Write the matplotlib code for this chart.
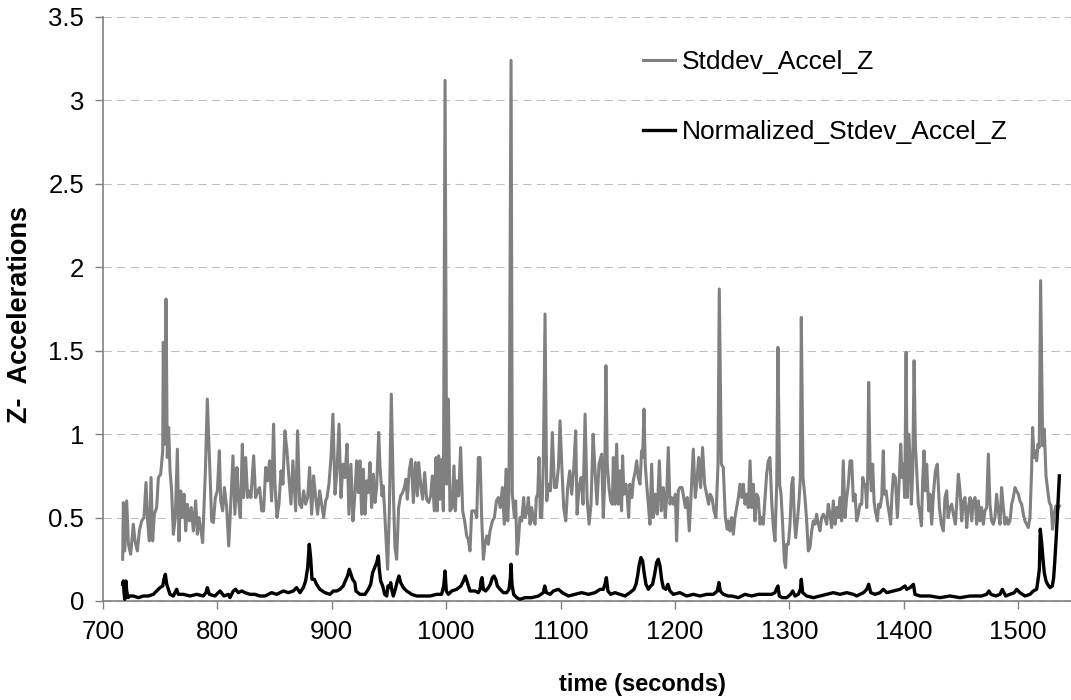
import matplotlib
matplotlib.use('Agg')
import matplotlib.pyplot as plt
from matplotlib.ticker import FuncFormatter

plt.rcParams['font.family'] = ['Liberation Sans', 'DejaVu Sans']

# Stddev_Accel_Z (gray)
t_std = [717.2, 717.8, 719.0, 720.7, 722.2, 724.2, 726.5, 728.0, 730.0, 731.8, 733.8, 735.8, 737.6, 739.0,
         740.5, 742.0, 743.4, 744.9, 746.9, 748.4, 750.4, 752.2, 752.7, 753.9, 755.1, 756.2, 757.4, 758.6,
         760.0, 761.5, 763.2, 765.0, 766.4, 767.9, 769.3, 770.8, 772.3, 773.7, 775.5, 777.2, 779.0, 781.0,
         782.5, 783.9, 785.7, 787.1, 789.5, 791.2, 793.0, 795.0, 796.5, 798.2, 800.0, 801.7, 802.9, 804.6,
         806.1, 808.1, 809.9, 811.8, 813.6, 815.3, 817.1, 818.3, 820.0, 821.8, 822.9, 824.7, 826.4, 827.6,
         829.3, 831.7, 833.4, 835.2, 836.9, 838.7, 840.4, 842.2, 843.9, 845.6, 847.4, 849.1, 850.3, 852.1,
         853.8, 855.6, 857.3, 859.0, 860.8, 862.5, 864.3, 866.0, 868.4, 870.1, 871.9, 873.6, 875.4, 877.1,
         878.9, 880.6, 882.4, 884.1, 885.9, 887.6, 889.4, 891.1, 892.9, 894.6, 895.8, 897.5, 899.3, 901.0,
         902.8, 904.5, 906.3, 908.0, 909.8, 911.5, 913.3, 915.0, 916.7, 918.5, 920.2, 921.7, 923.2, 924.6,
         926.1, 927.6, 929.0, 930.5, 931.9, 933.4, 934.8, 936.3, 937.8, 939.2, 941.0, 942.1, 943.9, 945.0,
         946.8, 948.8, 950.3, 952.0, 953.8, 955.2, 956.7, 958.4, 960.2, 961.9, 963.4, 964.9, 966.0, 967.8,
         969.5, 971.3, 973.0, 974.8, 975.9, 977.7, 979.4, 981.2, 982.9, 984.7, 986.4, 987.9, 989.6, 991.1,
         992.2, 993.4, 994.6, 996.3, 997.5, 999.0, 1000.4, 1001.9, 1003.3, 1005.1, 1006.8, 1008.0, 1009.1,
         1010.9, 1012.6, 1014.4, 1016.1, 1017.9, 1019.3, 1020.8, 1022.3, 1025.2, 1026.7, 1028.1, 1029.6,
         1031.0, 1032.5, 1033.9, 1035.4, 1036.9, 1038.3, 1040.4, 1042.1, 1043.9, 1045.6, 1047.3, 1049.1,
         1050.8, 1052.3, 1053.8, 1054.9, 1056.7, 1057.8, 1059.6, 1060.7, 1061.9, 1063.1, 1064.5, 1066.0,
         1067.7, 1068.9, 1070.7, 1071.8, 1073.3, 1074.7, 1076.5, 1077.7, 1078.8, 1080.0, 1081.1, 1082.3,
         1083.5, 1084.9, 1086.4, 1087.9, 1089.3, 1091.1, 1092.8, 1094.6, 1096.3, 1098.1, 1099.5, 1101.0,
         1102.7, 1104.5, 1106.2, 1108.0, 1109.7, 1111.5, 1113.2, 1114.4, 1116.1, 1117.9, 1119.6, 1121.4,
         1123.1, 1124.9, 1126.6, 1128.4, 1130.1, 1131.8, 1133.6, 1135.9, 1137.3, 1138.5, 1139.6, 1140.8,
         1142.3, 1143.7, 1145.2, 1146.1, 1147.5, 1149.0, 1150.4, 1151.9, 1153.3, 1154.2, 1155.4, 1157.1,
         1158.3, 1159.5, 1160.6, 1162.4, 1163.5, 1165.3, 1166.5, 1167.9, 1169.4, 1170.8, 1171.7, 1172.9,
         1174.0, 1175.2, 1176.7, 1178.1, 1179.6, 1181.0, 1182.8, 1184.5, 1186.3, 1188.0, 1189.8, 1191.5,
         1192.7, 1194.1, 1195.6, 1197.0, 1198.5, 1200.3, 1201.4, 1202.9, 1204.3, 1206.1, 1207.2, 1209.0,
         1210.7, 1212.5, 1214.2, 1216.0, 1217.7, 1218.9, 1220.7, 1222.4, 1224.1, 1225.9, 1227.6, 1229.4,
         1230.6, 1232.3, 1234.1, 1235.8, 1237.6, 1238.7, 1240.5, 1242.2, 1244.0, 1245.7, 1246.6, 1248.1,
         1249.5, 1251.0, 1252.4, 1253.9, 1255.4, 1256.8, 1258.3, 1259.7, 1261.2, 1262.6, 1264.1, 1265.6,
         1267.0, 1268.5, 1269.9, 1271.4, 1272.8, 1274.3, 1275.8, 1277.2, 1278.7, 1280.1, 1281.6, 1283.0,
         1284.5, 1286.0, 1287.4, 1288.9, 1290.0, 1291.5, 1292.7, 1293.8, 1295.6, 1296.7, 1297.6, 1299.1,
         1300.5, 1302.0, 1303.1, 1304.3, 1305.5, 1307.2, 1308.4, 1309.6, 1310.4, 1311.9, 1313.6, 1315.1,
         1316.5, 1318.0, 1319.5, 1320.9, 1322.4, 1323.8, 1325.3, 1326.7, 1328.2, 1329.7, 1331.1, 1332.6,
         1334.0, 1335.5, 1336.9, 1338.4, 1339.9, 1341.3, 1342.8, 1344.2, 1345.7, 1347.1, 1348.6, 1350.1,
         1351.5, 1353.0, 1354.5, 1355.9, 1357.4, 1358.8, 1360.3, 1361.7, 1363.2, 1364.1, 1365.2, 1366.4,
         1367.6, 1368.4, 1369.3, 1370.5, 1371.6, 1372.8, 1374.0, 1375.1, 1376.9, 1378.1, 1379.2, 1380.7,
         1382.1, 1383.0, 1384.5, 1385.9, 1387.4, 1388.5, 1389.7, 1390.9, 1392.6, 1394.4, 1396.1, 1397.3,
         1398.5, 1399.6, 1400.8, 1402.0, 1403.1, 1404.3, 1405.5, 1406.6, 1407.8, 1409.0, 1410.1, 1411.3,
         1412.7, 1414.2, 1415.4, 1416.5, 1417.7, 1418.9, 1420.0, 1421.8, 1422.9, 1424.4, 1425.9, 1427.6,
         1429.3, 1431.1, 1432.8, 1434.6, 1436.0, 1437.5, 1438.7, 1440.4, 1441.9, 1443.3, 1445.1, 1446.2,
         1447.7, 1449.2, 1450.6, 1452.1, 1453.5, 1455.0, 1456.4, 1457.9, 1459.4, 1460.8, 1462.3, 1463.7,
         1465.2, 1466.6, 1468.0, 1469.5, 1470.9, 1472.4, 1473.9, 1475.3, 1476.8, 1478.2, 1479.7, 1481.1,
         1482.6, 1484.1, 1485.5, 1487.0, 1488.4, 1489.9, 1491.3, 1492.8, 1494.3, 1495.7, 1497.2, 1498.6,
         1500.1, 1501.5, 1503.0, 1504.5, 1505.9, 1507.4, 1508.8, 1510.3, 1511.7, 1512.6, 1513.8, 1514.9,
         1516.1, 1517.3, 1518.4, 1519.6, 1521.4, 1522.8, 1524.3, 1525.7, 1527.2, 1528.7, 1530.1, 1531.6,
         1533.0, 1534.5, 1536.0]
v_std = [0.25, 0.59, 0.30, 0.60, 0.34, 0.28, 0.46, 0.36, 0.30, 0.42, 0.48, 0.50, 0.71, 0.48,
         0.36, 0.74, 0.36, 0.52, 0.56, 0.74, 0.76, 0.90, 1.55, 0.94, 1.81, 0.86, 1.04, 0.78,
         0.66, 0.40, 0.50, 0.91, 0.36, 0.66, 0.50, 0.64, 0.42, 0.58, 0.48, 0.56, 0.42, 0.60,
         0.40, 0.50, 0.42, 0.35, 0.78, 1.21, 0.86, 0.48, 0.47, 0.62, 0.66, 0.90, 0.60, 0.54,
         0.68, 0.56, 0.33, 0.60, 0.87, 0.52, 0.80, 0.62, 0.50, 0.94, 0.62, 0.86, 0.62, 0.66,
         0.62, 0.87, 0.62, 0.66, 0.68, 0.54, 0.54, 0.80, 0.72, 0.84, 0.60, 1.06, 0.70, 0.50,
         0.58, 0.78, 0.70, 1.02, 0.90, 0.74, 0.58, 0.84, 0.54, 1.02, 0.58, 0.56, 0.66, 0.58,
         0.62, 0.80, 0.52, 0.75, 0.62, 0.52, 0.66, 0.58, 0.50, 0.60, 0.62, 0.70, 0.86, 1.12,
         0.64, 0.78, 1.06, 0.62, 0.82, 0.74, 0.94, 0.52, 0.82, 0.48, 0.64, 0.84, 0.65, 0.84,
         0.52, 0.79, 0.52, 0.72, 0.65, 0.83, 0.56, 0.76, 0.59, 0.68, 1.01, 0.81, 0.63, 0.69,
         0.45, 0.19, 0.54, 1.24, 0.65, 0.32, 0.25, 0.56, 0.63, 0.65, 0.68, 0.73, 0.61, 0.79,
         0.85, 0.59, 0.83, 0.63, 0.83, 0.70, 0.61, 0.77, 0.61, 0.59, 0.63, 0.75, 0.54, 0.86,
         0.54, 0.87, 0.61, 0.85, 0.54, 3.12, 0.70, 1.21, 0.54, 0.56, 0.81, 0.54, 0.72,
         0.63, 0.92, 0.54, 0.48, 0.39, 0.37, 0.30, 0.54, 0.54, 0.50, 0.86, 0.86,
         0.50, 0.25, 0.34, 0.39, 0.34, 0.42, 0.48, 0.50, 0.60, 0.62, 0.56, 0.68,
         0.46, 0.79, 0.48, 0.66, 3.24, 0.64, 0.50, 0.60, 0.28, 0.36, 0.50, 0.48,
         0.62, 0.50, 0.54, 0.62, 0.46, 0.56, 0.48, 0.46, 0.62, 0.64, 0.86, 0.50,
         0.50, 0.82, 1.72, 0.60, 0.70, 0.66, 1.01, 0.68, 0.68, 0.80, 1.08, 0.82,
         0.56, 0.48, 0.68, 0.78, 0.64, 0.80, 1.02, 0.52, 0.68, 0.74, 0.58, 1.12,
         0.62, 0.46, 0.58, 1.00, 0.78, 0.58, 0.82, 0.88, 0.50, 0.70, 1.41, 0.82,
         0.68, 0.60, 0.58, 0.86, 0.58, 0.94, 0.58, 0.78, 0.54, 0.87, 0.64, 0.70,
         0.62, 0.50, 0.70, 0.62, 0.72, 0.78, 0.84, 0.74, 0.70, 0.90, 0.86, 1.15,
         0.82, 0.70, 0.58, 0.46, 0.82, 0.50, 0.64, 0.52, 0.84, 0.54, 0.68, 0.50,
         0.62, 0.92, 0.58, 0.62, 0.58, 0.64, 0.36, 0.66, 0.68, 0.68, 0.64, 0.56,
         0.62, 0.42, 0.66, 0.91, 0.62, 0.70, 0.86, 0.68, 0.92, 0.70, 0.64, 0.58,
         0.64, 0.62, 0.54, 0.50, 0.82, 1.87, 0.82, 0.80, 0.50, 0.43, 0.48, 0.42,
         0.50, 0.40, 0.50, 0.56, 0.62, 0.70, 0.62, 0.70, 0.58, 0.64, 0.56, 0.84,
         0.56, 0.70, 0.48, 0.64, 0.62, 0.46, 0.50, 0.46, 0.62, 0.76, 0.84, 0.86,
         0.60, 0.44, 0.36, 0.70, 1.52, 0.70, 0.64, 0.50, 0.24, 0.20, 0.34, 0.34,
         0.46, 0.70, 0.74, 0.50, 0.38, 0.50, 0.60, 0.74, 1.70, 0.74, 0.62, 0.48,
         0.30, 0.32, 0.42, 0.48, 0.46, 0.52, 0.46, 0.42, 0.50, 0.52, 0.50, 0.46,
         0.58, 0.52, 0.44, 0.60, 0.46, 0.56, 0.50, 0.62, 0.48, 0.84, 0.50, 0.62,
         0.70, 0.84, 0.84, 0.60, 0.64, 0.48, 0.52, 0.58, 0.58, 0.74, 0.70, 0.70,
         0.56, 0.73, 1.31, 0.82, 0.66, 0.82, 0.60, 0.54, 0.48, 0.58, 0.56, 0.62,
         0.90, 0.64, 0.66, 0.58, 0.52, 0.46, 0.64, 0.76, 0.74, 0.50, 0.74, 0.94,
         0.74, 0.82, 0.62, 1.49, 0.62, 1.00, 0.86, 0.58, 0.78, 1.44, 0.94, 0.78,
         0.58, 0.52, 0.45, 0.72, 0.90, 0.66, 0.82, 0.54, 0.64, 0.46, 0.64, 0.78,
         0.82, 0.56, 0.46, 0.42, 0.62, 0.66, 0.50, 0.56, 0.58, 0.52, 0.46, 0.58,
         0.76, 0.66, 0.48, 0.60, 0.62, 0.44, 0.56, 0.62, 0.48, 0.60, 0.62, 0.46,
         0.60, 0.48, 0.56, 0.46, 0.54, 0.56, 0.88, 0.58, 0.48, 0.46, 0.50, 0.64,
         0.54, 0.46, 0.68, 0.56, 0.46, 0.50, 0.46, 0.48, 0.58, 0.62, 0.68, 0.66,
         0.64, 0.60, 0.58, 0.52, 0.48, 0.46, 0.44, 0.50, 0.78, 1.04, 0.86, 0.90,
         0.84, 0.94, 0.92, 1.92, 0.93, 1.03, 0.75, 0.67, 0.59, 0.57, 0.43, 0.53,
         0.57, 0.55, 0.57]

# Normalized_Stdev_Accel_Z (black)
t_norm = [717.2, 717.8, 718.4, 719.0, 719.5, 720.1, 720.7, 721.9, 723.6, 726.5, 730.9, 735.3, 739.6, 744.0,
          746.9, 749.8, 752.2, 753.3, 754.5, 755.7, 757.1, 758.6, 761.5, 764.4, 765.9, 770.2, 776.1, 781.9,
          787.7, 790.0, 791.2, 793.0, 797.9, 802.3, 805.8, 809.6, 811.0, 813.9, 815.9, 818.3, 821.2, 824.1,
          828.5, 832.8, 837.2, 841.6, 847.4, 851.8, 857.6, 861.9, 866.3, 869.2, 872.2, 875.1, 877.1, 878.9,
          880.3, 881.5, 882.7, 884.7, 886.7, 889.6, 894.0, 898.4, 901.3, 904.2, 907.1, 910.0, 912.4, 913.8,
          915.3, 916.7, 918.2, 920.2, 921.1, 924.6, 929.0, 931.9, 934.0, 935.7, 937.5, 939.2, 940.7, 941.5,
          942.7, 944.5, 946.2, 948.0, 949.1, 950.3, 951.5, 952.6, 953.8, 955.5, 957.3, 958.7, 960.2, 962.5,
          965.4, 969.8, 974.2, 980.0, 985.8, 991.7, 996.0, 997.8, 999.0, 1000.1, 1001.9, 1004.8, 1009.1,
          1012.9, 1015.0, 1016.7, 1018.5, 1020.8, 1025.2, 1028.1, 1029.6, 1030.4, 1031.3, 1032.5, 1034.5,
          1036.9, 1038.6, 1040.4, 1041.8, 1043.3, 1044.7, 1047.1, 1050.0, 1052.9, 1054.9, 1056.1, 1056.7,
          1057.5, 1059.0, 1061.6, 1064.5, 1068.9, 1074.7, 1080.6, 1084.9, 1086.1, 1087.6, 1090.8, 1093.7,
          1098.1, 1101.5, 1106.8, 1112.6, 1118.4, 1124.3, 1130.1, 1134.5, 1137.3, 1138.8, 1140.0, 1141.4,
          1143.7, 1147.5, 1151.9, 1156.3, 1160.6, 1164.1, 1165.9, 1167.3, 1168.8, 1170.2, 1171.7, 1173.2,
          1174.6, 1176.7, 1178.7, 1180.4, 1182.2, 1183.9, 1185.4, 1186.9, 1188.3, 1189.8, 1192.1, 1193.8,
          1195.6, 1198.5, 1204.3, 1210.2, 1216.0, 1221.8, 1227.6, 1233.5, 1237.0, 1238.4, 1239.6, 1242.2,
          1246.6, 1249.5, 1255.4, 1261.2, 1267.0, 1272.8, 1278.7, 1284.5, 1287.4, 1289.2, 1290.0, 1291.2,
          1293.8, 1297.6, 1301.1, 1302.9, 1304.9, 1307.8, 1309.6, 1310.4, 1311.6, 1315.1, 1320.9, 1326.7,
          1332.6, 1338.4, 1344.2, 1350.1, 1355.9, 1358.8, 1364.7, 1367.6, 1369.3, 1371.1, 1374.9, 1379.2,
          1382.1, 1385.1, 1390.9, 1396.7, 1401.1, 1402.5, 1405.5, 1408.4, 1409.8, 1414.2, 1422.9, 1431.7,
          1440.4, 1449.2, 1457.9, 1465.2, 1468.0, 1472.4, 1474.4, 1476.2, 1480.3, 1484.1, 1486.1, 1489.0,
          1492.8, 1496.6, 1498.6, 1501.5, 1505.9, 1510.3, 1513.2, 1516.1, 1517.0, 1518.5, 1519.3, 1520.5,
          1521.7, 1522.8, 1524.3, 1525.7, 1527.8, 1529.8, 1531.0, 1532.1, 1533.3, 1534.5, 1536.0]
v_norm = [0.10, 0.12, 0.05, 0.01, 0.08, 0.12, 0.06, 0.02, 0.03, 0.03, 0.02, 0.03, 0.03, 0.04,
          0.06, 0.08, 0.09, 0.13, 0.16, 0.10, 0.07, 0.04, 0.03, 0.07, 0.04, 0.04, 0.03, 0.04,
          0.03, 0.05, 0.08, 0.04, 0.03, 0.06, 0.03, 0.04, 0.02, 0.06, 0.07, 0.05, 0.06, 0.05,
          0.04, 0.04, 0.03, 0.03, 0.05, 0.04, 0.06, 0.05, 0.06, 0.08, 0.05, 0.08, 0.12, 0.20,
          0.34, 0.26, 0.13, 0.13, 0.10, 0.07, 0.05, 0.04, 0.06, 0.06, 0.07, 0.09, 0.13, 0.15,
          0.19, 0.16, 0.13, 0.11, 0.06, 0.04, 0.04, 0.07, 0.10, 0.17, 0.20, 0.23, 0.27, 0.19,
          0.12, 0.09, 0.04, 0.03, 0.09, 0.08, 0.11, 0.06, 0.03, 0.07, 0.12, 0.15, 0.11, 0.08,
          0.06, 0.04, 0.03, 0.03, 0.03, 0.04, 0.04, 0.09, 0.18, 0.06, 0.04, 0.06, 0.07,
          0.09, 0.12, 0.15, 0.11, 0.06, 0.06, 0.05, 0.07, 0.12, 0.14, 0.07, 0.06,
          0.08, 0.10, 0.14, 0.15, 0.13, 0.09, 0.07, 0.05, 0.05, 0.07, 0.14, 0.22,
          0.10, 0.04, 0.02, 0.01, 0.02, 0.02, 0.03, 0.05, 0.09, 0.05, 0.04, 0.06,
          0.07, 0.05, 0.03, 0.04, 0.05, 0.04, 0.05, 0.07, 0.07, 0.10, 0.14, 0.06,
          0.04, 0.05, 0.04, 0.03, 0.05, 0.07, 0.10, 0.15, 0.22, 0.26, 0.24, 0.16,
          0.10, 0.07, 0.09, 0.10, 0.16, 0.23, 0.25, 0.21, 0.13, 0.08, 0.07, 0.10,
          0.06, 0.04, 0.05, 0.03, 0.04, 0.03, 0.04, 0.04, 0.06, 0.11, 0.06, 0.04,
          0.03, 0.03, 0.02, 0.04, 0.03, 0.04, 0.04, 0.04, 0.05, 0.08, 0.09, 0.03,
          0.02, 0.02, 0.04, 0.06, 0.03, 0.04, 0.07, 0.13, 0.05, 0.03, 0.02, 0.03,
          0.04, 0.05, 0.04, 0.05, 0.04, 0.03, 0.05, 0.07, 0.10, 0.05, 0.04, 0.05,
          0.07, 0.05, 0.06, 0.07, 0.09, 0.07, 0.08, 0.10, 0.04, 0.03, 0.03, 0.02,
          0.03, 0.02, 0.03, 0.03, 0.03, 0.04, 0.06, 0.04, 0.03, 0.04, 0.07, 0.03,
          0.04, 0.05, 0.07, 0.05, 0.03, 0.04, 0.06, 0.07, 0.11, 0.19, 0.43, 0.35,
          0.25, 0.17, 0.12, 0.10, 0.08, 0.09, 0.14, 0.25, 0.39, 0.55, 0.75]

x_ticks = [700, 800, 900, 1000, 1100, 1200, 1300, 1400, 1500]
y_ticks = [0, 0.5, 1, 1.5, 2, 2.5, 3, 3.5]

fig = plt.figure(figsize=(10.71, 7.0), dpi=100)
# plot area runs past the right edge of the picture, like the cropped original
ax = fig.add_axes([103 / 1071, 99 / 700, 1029.6 / 1071, 584 / 700])

ax.plot(t_std, v_std, color='#808080', linewidth=2.2, solid_joinstyle='round', label='Stddev_Accel_Z', zorder=3)
ax.plot(t_norm, v_norm, color='black', linewidth=2.4, solid_joinstyle='round', label='Normalized_Stdev_Accel_Z', zorder=4)

ax.set_xlim(700, 1600)
ax.set_ylim(0, 3.5)
ax.set_xticks(x_ticks)
ax.set_yticks(y_ticks)
ax.yaxis.set_major_formatter(FuncFormatter(lambda v, p: f'{v:g}'))
ax.tick_params(axis='both', labelsize=18.5, length=5.5, width=1, color='#808080', direction='out')
ax.tick_params(axis='x', pad=8)
ax.tick_params(axis='y', pad=8)

ax.grid(axis='y', color='#c0c0c0', linewidth=0.75, linestyle=(0, (8, 5)), clip_on=False)
ax.set_axisbelow(True)
for side in ['top', 'right']:
    ax.spines[side].set_visible(False)
for side in ['left', 'bottom']:
    ax.spines[side].set_color('#808080')
    ax.spines[side].set_linewidth(1.2)

fig.text(642 / 1071, 1 - 684 / 700, 'time (seconds)', fontsize=17, fontweight='bold', ha='center', va='center')
fig.text(20 / 1071, 1 - 315 / 700, 'Z-  Accelerations', fontsize=19.5, fontweight='bold',
         rotation=90, ha='center', va='center')

ax.legend(loc='upper left', bbox_to_anchor=(643 / 1071, 1 - 50 / 700), bbox_transform=fig.transFigure,
          frameon=False, fontsize=19, handlelength=1.2, handletextpad=0.27, labelspacing=1.75,
          borderpad=0, borderaxespad=0)

plt.savefig('out.png', dpi=100)
